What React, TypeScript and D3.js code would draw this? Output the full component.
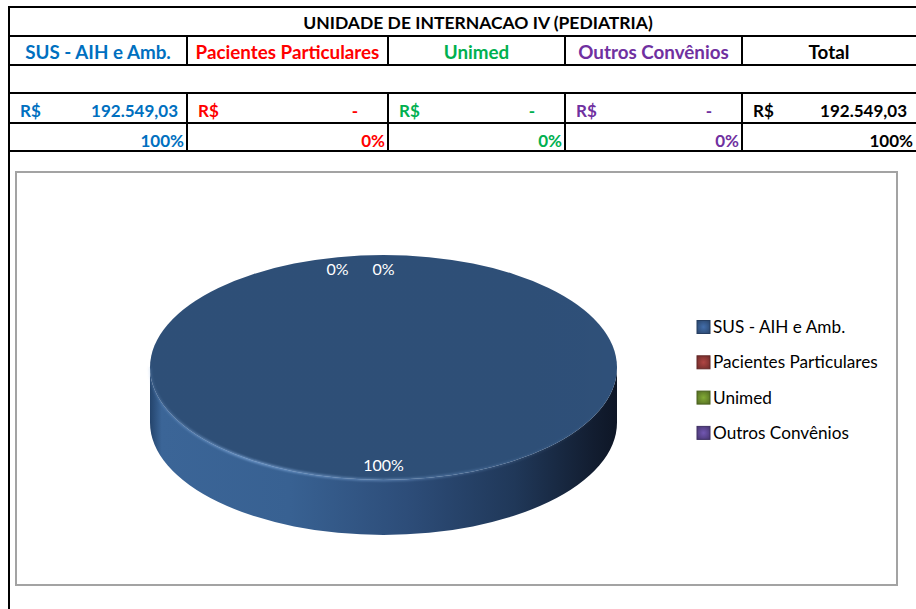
import React from "react";
import * as d3 from "d3";

const title = "UNIDADE DE INTERNACAO IV (PEDIATRIA)";
const categories = ["SUS - AIH e Amb.", "Pacientes Particulares", "Unimed", "Outros Convênios"];
const values = [192549.03, 0, 0, 0];
const textColors = ["#0070C0", "#FF0000", "#00B050", "#7030A0"];
const sliceColors = ["#36598A", "#8E3836", "#6A8A2C", "#5C4690"];
const totalLabel = "Total";
const currency = "R$";

const W = 916;
const H = 609;

const colEdges = [9, 187, 388, 565, 742, 916];
const rowLines = [7, 36, 65, 93, 123, 151];

const fmtMoney = (v: number) =>
  v === 0
    ? "-"
    : v.toLocaleString("pt-BR", { minimumFractionDigits: 2, maximumFractionDigits: 2 });
const fmtPct = (v: number) => `${Math.round(v * 100)}%`;

export default function App() {
  const total = d3.sum(values);
  const shares = values.map((v) => (total ? v / total : 0));

  const tableFont = "Lato, 'Open Sans', sans-serif";

  // pie geometry
  const cx = 383.5;
  const cy = 367.5;
  const rx = 233.5;
  const ry = 112.5;
  const depth = 55;
  const k = ry / rx;

  const pie = d3.pie<number>().sort(null).value((d) => d);
  const arcs = pie(values);
  const topArc = d3.arc<d3.PieArcDatum<number>>().innerRadius(0).outerRadius(rx);
  const labelArc = d3
    .arc<d3.PieArcDatum<number>>()
    .innerRadius(rx * 0.87)
    .outerRadius(rx * 0.87);

  const P = (a: number) => [cx + rx * Math.sin(a), cy - ry * Math.cos(a)];

  const sidePath = (a0: number, a1: number) => {
    const s = Math.max(a0, Math.PI / 2);
    const e = Math.min(a1, (3 * Math.PI) / 2);
    if (!(s < e)) return null;
    const large = e - s > Math.PI ? 1 : 0;
    const [x0, y0] = P(s);
    const [x1, y1] = P(e);
    return `M${x0},${y0} A${rx},${ry} 0 ${large} 1 ${x1},${y1} L${x1},${y1 + depth} A${rx},${ry} 0 ${large} 0 ${x0},${y0 + depth} Z`;
  };

  const rimPath = (a0: number, a1: number) => {
    const s = Math.max(a0, Math.PI / 2);
    const e = Math.min(a1, (3 * Math.PI) / 2);
    if (!(s < e)) return null;
    const large = e - s > Math.PI ? 1 : 0;
    const [x0, y0] = P(s);
    const [x1, y1] = P(e);
    return `M${x0},${y0} A${rx},${ry} 0 ${large} 1 ${x1},${y1}`;
  };

  // label placement: nudge first zero slice label, hide exact duplicates
  let zeroSeen = 0;
  const seen = new Set<string>();
  const labels = arcs
    .map((a, i) => {
      const [lx, ly] = labelArc.centroid(a);
      let dx = 0;
      if (a.value === 0) {
        if (zeroSeen === 0) dx = -46;
        zeroSeen++;
      }
      return { x: cx + lx + dx, y: cy + ly * k, text: fmtPct(shares[i]) };
    })
    .filter((l) => {
      const key = `${Math.round(l.x)}_${Math.round(l.y)}`;
      if (seen.has(key)) return false;
      seen.add(key);
      return true;
    });

  const legendX = 697;
  const legendY0 = 327;
  const legendStep = 35.3;

  const cols = [
    ...categories.map((c, i) => ({ name: c, color: textColors[i], value: values[i], pct: shares[i] })),
    { name: totalLabel, color: "#000000", value: total, pct: total ? 1 : 0 },
  ];

  return (
    <svg
      width={W}
      height={H}
      viewBox={`0 0 ${W} ${H}`}
      style={{ position: "absolute", left: 0, top: 0, background: "#fff" }}
    >
      <defs>
        <linearGradient id="sideGrad" gradientUnits="userSpaceOnUse" x1={cx - rx} x2={cx + rx} y1={0} y2={0}>
          <stop offset="0" stopColor="#24446C" />
          <stop offset="0.025" stopColor="#3B6597" />
          <stop offset="0.3" stopColor="#386192" />
          <stop offset="0.55" stopColor="#2D4D79" />
          <stop offset="0.78" stopColor="#203859" />
          <stop offset="0.95" stopColor="#121D30" />
          <stop offset="1" stopColor="#0E1626" />
        </linearGradient>
        <linearGradient id="topGrad" gradientUnits="userSpaceOnUse" x1={0} x2={0} y1={cy - ry} y2={cy + ry}>
          <stop offset="0" stopColor="#30527C" />
          <stop offset="0.5" stopColor="#375C89" />
          <stop offset="1" stopColor="#3E6898" />
        </linearGradient>
        <linearGradient id="topShade" gradientUnits="userSpaceOnUse" x1={cx - rx} x2={cx + rx} y1={0} y2={0}>
          <stop offset="0" stopColor="#000" stopOpacity="0.04" />
          <stop offset="0.5" stopColor="#000" stopOpacity="0" />
          <stop offset="0.93" stopColor="#000" stopOpacity="0.06" />
          <stop offset="1" stopColor="#000" stopOpacity="0.3" />
        </linearGradient>
        <linearGradient id="rimGrad" gradientUnits="userSpaceOnUse" x1={cx - rx} x2={cx + rx} y1={0} y2={0}>
          <stop offset="0" stopColor="#7FA8DA" stopOpacity="0.2" />
          <stop offset="0.2" stopColor="#7FA8DA" stopOpacity="0.8" />
          <stop offset="0.5" stopColor="#7FA8DA" stopOpacity="0.5" />
          <stop offset="0.85" stopColor="#7FA8DA" stopOpacity="0.1" />
          <stop offset="1" stopColor="#7FA8DA" stopOpacity="0" />
        </linearGradient>
        <filter id="blur1" x="-10%" y="-10%" width="120%" height="120%">
          <feGaussianBlur stdDeviation="1" />
        </filter>
        {sliceColors.map((c, i) => (
          <radialGradient key={i} id={`leg${i}`} cx="0.5" cy="0.5" r="0.7">
            <stop offset="0" stopColor={d3.color(c)!.brighter(0.6).formatHex()} />
            <stop offset="0.5" stopColor={c} />
            <stop offset="1" stopColor={d3.color(c)!.darker(0.8).formatHex()} />
          </radialGradient>
        ))}
      </defs>

      {/* table grid */}
      <g stroke="#000" strokeWidth={2}>
        {rowLines.map((y, i) => (
          <line key={`h${i}`} x1={colEdges[0]} x2={W} y1={y} y2={y} />
        ))}
        <line x1={colEdges[0]} x2={colEdges[0]} y1={rowLines[0] - 1} y2={H} />
        {colEdges.slice(1, -1).map((x, i) => (
          <g key={`v${i}`}>
            <line x1={x} x2={x} y1={rowLines[1]} y2={rowLines[2]} />
            <line x1={x} x2={x} y1={rowLines[3]} y2={rowLines[5]} />
          </g>
        ))}
      </g>

      <g fontFamily={tableFont} fontWeight="bold">
        <text x={478} y={29} textAnchor="middle" fill="#000" fontSize={17.5}>
          {title}
        </text>
        {cols.map((c, i) => {
          const x0 = colEdges[i];
          const x1 = colEdges[i + 1];
          return (
            <g key={i} fill={c.color} fontSize={17}>
              <text x={(x0 + x1) / 2} y={59} textAnchor="middle" fontSize={18.8}>
                {c.name}
              </text>
              <text x={x0 + 11} y={117}>
                {currency}
              </text>
              <text x={x1 - (c.value === 0 ? 30 : 9)} y={117} textAnchor="end">
                {fmtMoney(c.value)}
              </text>
              <text x={x1 - 3} y={146.5} textAnchor="end">
                {fmtPct(c.pct)}
              </text>
            </g>
          );
        })}
      </g>

      {/* chart area */}
      <rect x={16} y={172} width={881} height={413} fill="#fff" stroke="#A3A3A3" strokeWidth={2} />

      {/* 3D pie: side walls */}
      <g>
        {arcs.map((a, i) => {
          const d = sidePath(a.startAngle, a.endAngle);
          return d ? <path key={`s${i}`} d={d} fill={i === 0 ? "url(#sideGrad)" : sliceColors[i]} /> : null;
        })}
      </g>
      {/* top faces */}
      <g transform={`translate(${cx},${cy}) scale(1,${k})`}>
        {arcs.map((a, i) => (
          <path key={`t${i}`} d={topArc(a) || ""} fill={i === 0 ? "url(#topGrad)" : sliceColors[i]} />
        ))}
        {arcs.map((a, i) =>
          a.value > 0 ? <path key={`ts${i}`} d={topArc(a) || ""} fill="url(#topShade)" /> : null
        )}
      </g>
      {/* bevel rim highlight */}
      <g filter="url(#blur1)">
        {arcs.map((a, i) => {
          const d = rimPath(a.startAngle, a.endAngle);
          return d ? (
            <path key={`r${i}`} d={d} fill="none" stroke="url(#rimGrad)" strokeWidth={2.5} />
          ) : null;
        })}
      </g>

      {/* data labels */}
      <g fontFamily="Lato, 'Open Sans', sans-serif" fontSize={16} fill="#FFFFFF" textAnchor="middle">
        {labels.map((l, i) => (
          <text key={i} x={l.x} y={l.y} dy="0.35em">
            {l.text}
          </text>
        ))}
      </g>

      {/* legend */}
      <g fontFamily="Lato, 'Open Sans', sans-serif" fontSize={17.2} fill="#000">
        {categories.map((c, i) => {
          const y = legendY0 + i * legendStep;
          return (
            <g key={i}>
              <rect
                x={legendX}
                y={y - 6.5}
                width={13}
                height={13}
                fill={`url(#leg${i})`}
                stroke={d3.color(sliceColors[i])!.darker(1).formatHex()}
                strokeWidth={1}
              />
              <text x={legendX + 16} y={y} dy="0.35em">
                {c}
              </text>
            </g>
          );
        })}
      </g>
    </svg>
  );
}
